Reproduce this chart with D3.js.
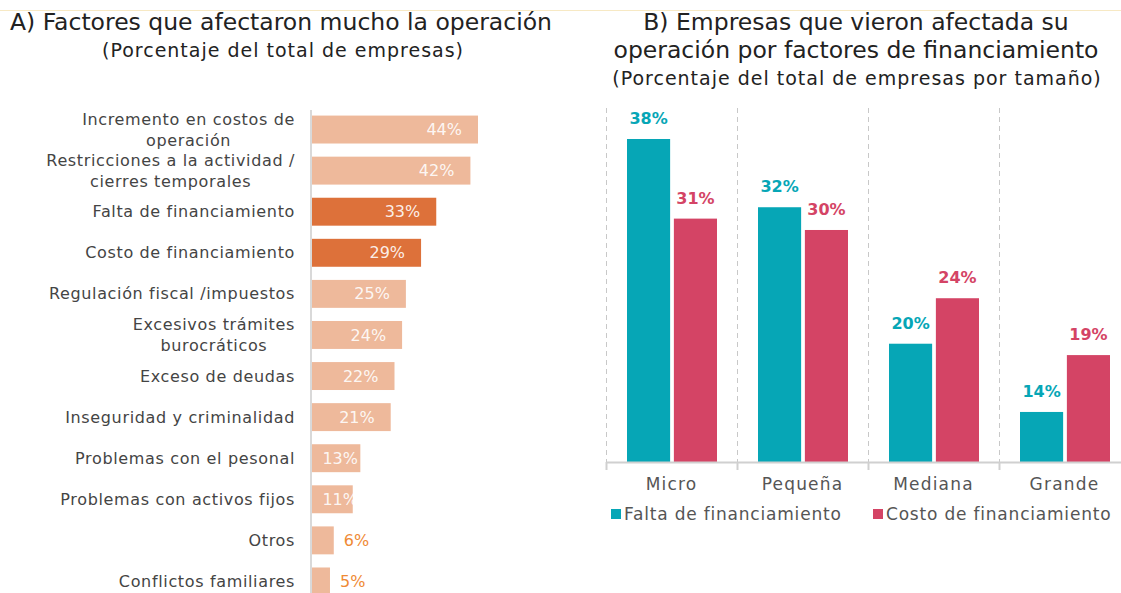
<!DOCTYPE html>
<html>
<head>
<meta charset="utf-8">
<script src="https://cdn.jsdelivr.net/npm/d3@7"></script>
<style>
  body { margin: 0; background: #fff; }
  svg { font-family: 'DejaVu Sans', sans-serif; }
</style>
</head>
<body>
<svg id="chart" width="1121" height="593"></svg>
<script>
// panel A
const factors = [
  'Incremento en costos de|operación',
  'Restricciones a la actividad /|cierres temporales',
  'Falta de financiamiento',
  'Costo de financiamiento',
  'Regulación fiscal /impuestos',
  'Excesivos trámites|burocráticos',
  'Exceso de deudas',
  'Inseguridad y criminalidad',
  'Problemas con el pesonal',
  'Problemas con activos fijos',
  'Otros',
  'Conflictos familiares'
]
const factorValues = [44, 42, 33, 29, 25, 24, 22, 21, 13, 11, 6, 5]
const highlighted = ['Falta de financiamiento', 'Costo de financiamiento']

// panel B
const sizes = ['Micro', 'Pequeña', 'Mediana', 'Grande']
const seriesNames = ['Falta de financiamiento', 'Costo de financiamiento']
const faltaValues = [38, 32, 20, 14]
const costoValues = [31, 30, 24, 19]

const svg = d3.select('#chart')

// thin line on top
svg.append('line')
  .attr('x1', 0).attr('x2', 1121)
  .attr('y1', 10.5).attr('y2', 10.5)
  .attr('stroke', '#f7e9c4')
  .attr('stroke-width', 1)

// ---------- panel A ----------
svg.append('text')
  .attr('x', 281).attr('y', 30)
  .attr('text-anchor', 'middle')
  .attr('font-size', 23.5)
  .attr('fill', '#222')
  .text('A) Factores que afectaron mucho la operación')

svg.append('text')
  .attr('x', 283).attr('y', 57)
  .attr('text-anchor', 'middle')
  .attr('font-size', 19)
  .attr('letter-spacing', 1)
  .attr('fill', '#222')
  .text('(Porcentaje del total de empresas)')

const xA = d3.scaleLinear().domain([0, 44]).range([311, 478])
const yA = d3.scaleBand().domain(factors).range([109, 602]).paddingInner(0.32).paddingOuter(0.16)

const gA = svg.append('g')

gA.selectAll('rect.bar')
  .data(factors)
  .join('rect')
  .attr('class', 'bar')
  .attr('x', xA(0))
  .attr('y', d => yA(d))
  .attr('width', (d, i) => xA(factorValues[i]) - xA(0))
  .attr('height', yA.bandwidth())
  .attr('fill', d => highlighted.includes(d) ? '#dd713a' : '#eeb99b')

gA.append('line')
  .attr('x1', 311).attr('x2', 311)
  .attr('y1', 110).attr('y2', 593)
  .attr('stroke', '#d9d9d9')
  .attr('stroke-width', 2)

gA.selectAll('text.val')
  .data(factors)
  .join('text')
  .attr('class', 'val')
  .attr('x', (d, i) => factorValues[i] > 8 ? Math.max(xA(factorValues[i]) - 16, 358) : xA(factorValues[i]) + 10)
  .attr('y', d => yA(d) + yA.bandwidth() / 2)
  .attr('dy', '0.35em')
  .attr('text-anchor', (d, i) => factorValues[i] > 8 ? 'end' : 'start')
  .attr('font-size', 16)
  .attr('fill', (d, i) => factorValues[i] > 8 ? '#fff' : '#ef8a35')
  .attr('fill-opacity', (d, i) => factorValues[i] > 8 ? 0.9 : 1)
  .text((d, i) => factorValues[i] + '%')

// category labels, multi-line centred in a right-aligned block
const labelRight = 295
factors.forEach(f => {
  const lines = f.split('|')
  const cy = yA(f) + yA.bandwidth() / 2
  const lh = 21
  const g = gA.append('g')
  const texts = lines.map((l, j) => g.append('text')
    .attr('y', cy + (j - (lines.length - 1) / 2) * lh)
    .attr('dy', '0.35em')
    .attr('text-anchor', 'middle')
    .attr('font-size', 16)
    .attr('letter-spacing', 0.65)
    .attr('fill', '#444')
    .text(l))
  const maxW = d3.max(texts, t => t.node().getComputedTextLength())
  texts.forEach(t => t.attr('x', labelRight - maxW / 2))
})

// ---------- panel B ----------
const titleB = ['B) Empresas que vieron afectada su', 'operación por factores de financiamiento']
titleB.forEach((t, i) => {
  svg.append('text')
    .attr('x', 856).attr('y', 30 + i * 28)
    .attr('text-anchor', 'middle')
    .attr('font-size', 23.5)
    .attr('fill', '#222')
    .text(t)
})
svg.append('text')
  .attr('x', 857).attr('y', 85)
  .attr('text-anchor', 'middle')
  .attr('font-size', 19)
  .attr('letter-spacing', 1)
  .attr('fill', '#222')
  .text('(Porcentaje del total de empresas por tamaño)')

const x0 = d3.scaleBand().domain(sizes).range([606, 1130]).padding(0)
const x1 = d3.scaleBand().domain(seriesNames).range([21, 111]).paddingInner(0.08)
const yB = d3.scaleLinear().domain([9.6, 38]).range([462, 139])
const colB = d3.scaleOrdinal().domain(seriesNames).range(['#06a6b6', '#d44465'])

const gB = svg.append('g')

// dashed separators
gB.selectAll('line.sep')
  .data(sizes)
  .join('line')
  .attr('class', 'sep')
  .attr('x1', d => x0(d) + 0.5).attr('x2', d => x0(d) + 0.5)
  .attr('y1', 108).attr('y2', 470)
  .attr('stroke', '#c8c8c8')
  .attr('stroke-dasharray', '5,4')

const groups = gB.selectAll('g.grp')
  .data(sizes.map((s, i) => ({ size: s, vals: [faltaValues[i], costoValues[i]] })))
  .join('g')
  .attr('class', 'grp')
  .attr('transform', d => `translate(${x0(d.size)},0)`)

groups.selectAll('rect')
  .data(d => d.vals.map((v, j) => ({ name: seriesNames[j], v })))
  .join('rect')
  .attr('x', d => x1(d.name))
  .attr('y', d => yB(d.v))
  .attr('width', x1.bandwidth())
  .attr('height', d => yB(yB.domain()[0]) - yB(d.v))
  .attr('fill', d => colB(d.name))

groups.selectAll('text')
  .data(d => d.vals.map((v, j) => ({ name: seriesNames[j], v })))
  .join('text')
  .attr('x', d => x1(d.name) + x1.bandwidth() / 2)
  .attr('y', d => yB(d.v) - 15)
  .attr('text-anchor', 'middle')
  .attr('font-size', 16)
  .attr('font-weight', 'bold')
  .attr('fill', d => colB(d.name))
  .text(d => d.v + '%')

// baseline axis
const axisB = d3.axisBottom(x0).tickSize(0).tickPadding(16)
const ax = gB.append('g')
  .attr('transform', 'translate(0,462)')
  .call(axisB)
ax.select('.domain').attr('stroke', '#d0d0d0').attr('stroke-width', 2)
ax.selectAll('text')
  .attr('font-size', 17)
  .attr('letter-spacing', 1.2)
  .attr('fill', '#555')
  .attr('font-family', 'DejaVu Sans')
gB.selectAll('line.tk')
  .data(sizes)
  .join('line')
  .attr('class', 'tk')
  .attr('x1', d => x0(d) + 0.5).attr('x2', d => x0(d) + 0.5)
  .attr('y1', 462).attr('y2', 470)
  .attr('stroke', '#d0d0d0')
  .attr('stroke-width', 2)

// legend
const legX = [611, 873]
seriesNames.forEach((n, i) => {
  svg.append('rect')
    .attr('x', legX[i]).attr('y', 509)
    .attr('width', 10).attr('height', 10)
    .attr('fill', colB(n))
  svg.append('text')
    .attr('x', legX[i] + 13).attr('y', 514)
    .attr('dy', '0.35em')
    .attr('font-size', 17)
    .attr('letter-spacing', 0.8)
    .attr('fill', '#555')
    .text(n)
})
</script>
</body>
</html>
